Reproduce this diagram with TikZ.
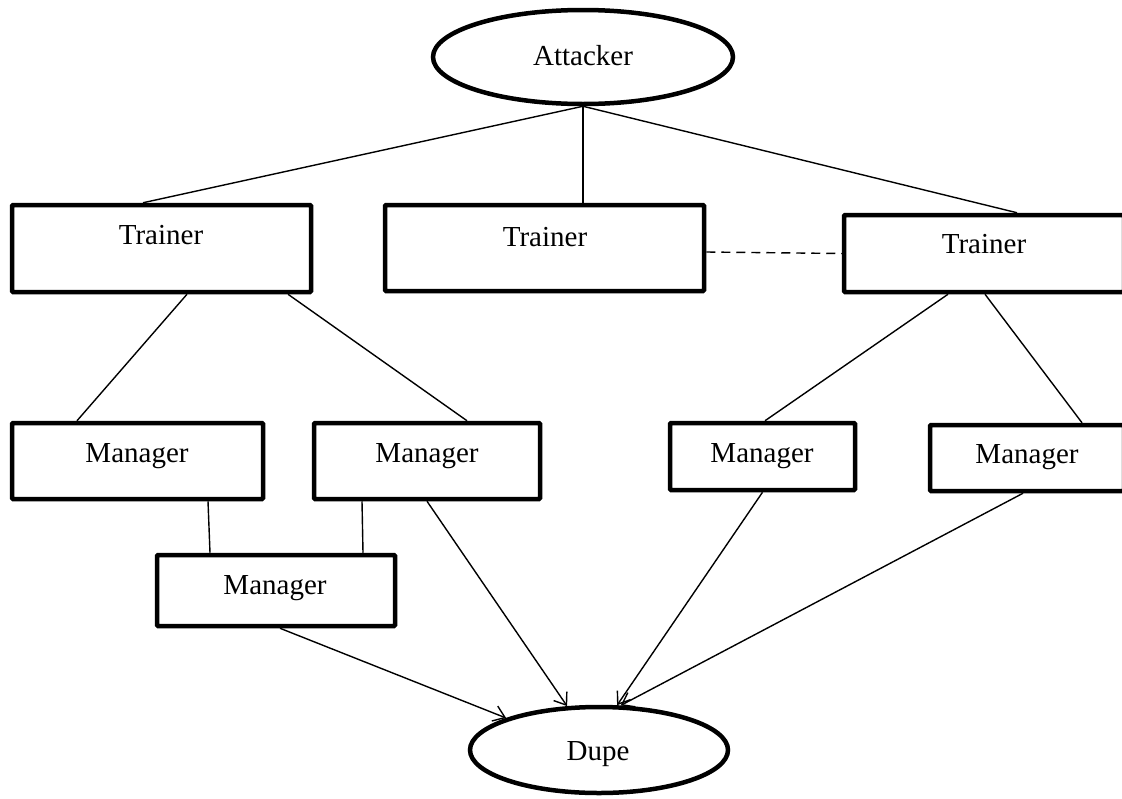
\documentclass[tikz,border=0pt]{standalone}
\usepackage{fontspec}
\setmainfont{Liberation Serif}
\usetikzlibrary{shapes.geometric,arrows.meta}

\begin{document}
\begin{tikzpicture}[x=1pt,y=-1pt,
    box/.style={draw, line width=4.5pt, rounded corners=1pt, inner sep=0pt},
    oval/.style={draw, ellipse, line width=4.5pt, inner sep=0pt},
    txt/.style={anchor=base, inner sep=0pt, font=\fontsize{29}{34}\selectfont},
    link/.style={line width=1.4pt},
    arr/.style={line width=1.4pt, -{Straight Barb[length=11pt,width=16pt,line width=1.4pt]}}]
      \clip (0,0) rectangle (1122,798);

      % Attacker and Dupe
      \node[oval, minimum width=300pt, minimum height=94pt] (att) at (583,57) {};
      \node[txt] (attt) at (583,65) {Attacker};
      \node[oval, minimum width=258pt, minimum height=86pt] (dupe) at (599,750) {};
      \node[txt] (dupet) at (598,760) {Dupe};

      % Trainers
      \node[box, minimum width=299pt, minimum height=87pt] (tr1) at (161.5,248.5) {};
      \node[txt] (tr1t) at (161,244) {Trainer};
      \node[box, minimum width=319pt, minimum height=86pt] (tr2) at (544.5,248) {};
      \node[txt] (tr2t) at (545,246) {Trainer};
      \node[box, minimum width=280pt, minimum height=77pt] (tr3) at (984,253.5) {};
      \node[txt] (tr3t) at (984,253) {Trainer};

      % Managers
      \node[box, minimum width=251pt, minimum height=76pt] (mg1) at (137.5,461) {};
      \node[txt] (mg1t) at (137,462) {Manager};
      \node[box, minimum width=226pt, minimum height=76pt] (mg2) at (427,461) {};
      \node[txt] (mg2t) at (427,462) {Manager};
      \node[box, minimum width=185pt, minimum height=67pt] (mg3) at (762.5,456.5) {};
      \node[txt] (mg3t) at (762,462) {Manager};
      \node[box, minimum width=194pt, minimum height=66pt] (mg4) at (1027,458) {};
      \node[txt] (mg4t) at (1027,463) {Manager};
      \node[box, minimum width=238pt, minimum height=71pt] (mg5) at (276,590.5) {};
      \node[txt] (mg5t) at (275,594) {Manager};

      % Attacker to the trainers
      \draw[link] (att.south) -- ([xshift=-18.5pt]tr1.north);
      \draw[link] (att.south) -- ([xshift=38.5pt]tr2.north);
      \draw[link] (att.south) -- ([xshift=33pt]tr3.north);
      \draw[link, dash pattern=on 9pt off 6pt] ([yshift=-4pt]tr2.east) -- (tr3.west);

      % Trainers to the managers
      \draw[link] ([xshift=25.5pt]tr1.south) -- ([xshift=-60.5pt]mg1.north);
      \draw[link] ([xshift=126.5pt]tr1.south) -- ([xshift=40pt]mg2.north);
      \draw[link] ([xshift=-36pt]tr3.south) -- ([xshift=2.5pt]mg3.north);
      \draw[link] ([xshift=1pt]tr3.south) -- ([xshift=55pt]mg4.north);
      \draw[link] ([xshift=70.5pt]mg1.south) -- ([xshift=-66pt]mg5.north);
      \draw[link] ([xshift=-65pt]mg2.south) -- ([xshift=87pt]mg5.north);

      % Managers to the dupe
      \draw[arr] ([xshift=4pt]mg5.south) -- (dupe.161);
      \draw[arr] (mg2.south) -- (dupe.126);
      \draw[arr] (mg3.south) -- (dupe.68);
      \draw[arr] ([xshift=-4pt]mg4.south) -- (dupe.64);
\end{tikzpicture}
\end{document}
